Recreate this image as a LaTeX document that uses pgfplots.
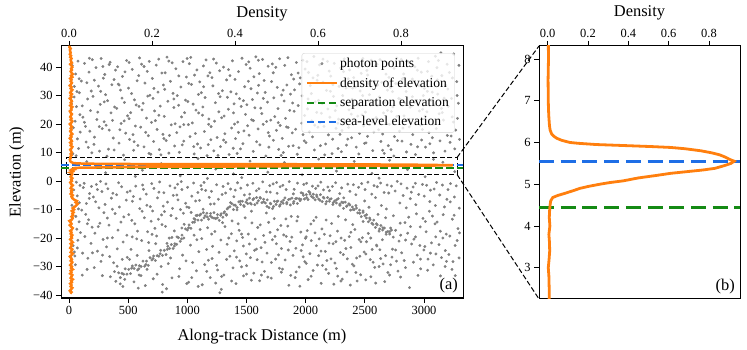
\documentclass[border=0pt]{standalone}
\usepackage{fontspec}
\setmainfont{Liberation Serif}
\usepackage{pgfplots}
\pgfplotsset{compat=1.18}
\usepackage{pgfplotstable}

\definecolor{photon}{RGB}{128,128,128}
\definecolor{densorange}{RGB}{255,127,14}
\definecolor{sepgreen}{RGB}{20,138,20}
\definecolor{seablue}{RGB}{30,110,230}

% density of photon elevations (elevation in m, normalised density)
\pgfplotstableread{
elev dens
-39.5 0.003
-39 0.006
-38.5 0.002
-38 0.005
-37.5 0.008
-37 0.004
-36.5 0.006
-36 0.003
-35.5 0.007
-35 0.005
-34.5 0.009
-34 0.004
-33.5 0.006
-33 0.008
-32.5 0.003
-32 0.006
-31.5 0.004
-31 0.009
-30.5 0.005
-30 0.007
-29.5 0.003
-29 0.006
-28.5 0.008
-28 0.004
-27.5 0.007
-27 0.005
-26.5 0.002
-26 0.006
-25.5 0.009
-25 0.004
-24.5 0.006
-24 0.008
-23.5 0.003
-23 0.005
-22.5 0.007
-22 0.004
-21.5 0.009
-21 0.006
-20.5 0.003
-20 0.007
-19.5 0.005
-19 0.008
-18.5 0.004
-18 0.006
-17.5 0.003
-17 0.007
-16.5 0.009
-16 0.005
-15.5 0.002
-15 0.006
-14.5 0.004
-14 0.001
-13.5 0.007
-13 0.009
-12.5 0.006
-12 0.010
-11.5 0.008
-11 0.011
-10.5 0.007
-10 0.012
-9.5 0.009
-9 0.014
-8.5 0.018
-8 0.021
-7.5 0.016
-7 0.019
-6.5 0.012
-6 0.008
-5.5 0.006
-5 0.009
-4.5 0.004
-4 0.007
-3.5 0.005
-3 0.008
-2.5 0.004
-2 0.006
-1.5 0.009
-1 0.005
-0.5 0.003
0 0.007
0.5 0.005
1 0.008
1.5 0.004
2 0.006
2.4 0.008
2.6 0.007
2.8 0.006
3.0 0.003
3.2 0.007
3.4 0.010
3.6 0.009
3.8 0.006
4.0 0.011
4.2 0.008
4.4 0.010
4.5 0.012
4.6 0.015
4.68 0.025
4.73 0.05
4.78 0.085
4.85 0.13
4.9 0.16
4.95 0.205
5.0 0.26
5.04 0.31
5.08 0.375
5.15 0.45
5.21 0.54
5.26 0.61
5.3 0.69
5.34 0.77
5.38 0.83
5.45 0.88
5.5 0.91
5.55 0.925
5.6 0.90
5.65 0.88
5.7 0.855
5.75 0.815
5.8 0.76
5.85 0.68
5.88 0.61
5.9 0.52
5.92 0.41
5.95 0.24
5.98 0.15
6.0 0.11
6.05 0.07
6.1 0.045
6.15 0.03
6.2 0.02
6.3 0.012
6.4 0.009
6.6 0.006
6.8 0.004
7.0 0.003
7.5 0.002
8.0 0.004
8.5 0.003
9 0.006
9.5 0.004
10 0.007
10.5 0.005
11 0.003
11.5 0.006
12 0.008
12.5 0.004
13 0.006
13.5 0.003
14 0.007
14.5 0.005
15 0.002
15.5 0.006
16 0.004
16.5 0.008
17 0.005
17.5 0.003
18 0.006
18.5 0.004
19 0.007
19.5 0.005
20 0.002
20.5 0.006
21 0.008
21.5 0.004
22 0.006
22.5 0.003
23 0.005
23.5 0.007
24 0.004
24.5 0.002
25 0.006
25.5 0.005
26 0.008
26.5 0.003
27 0.006
27.5 0.004
28 0.007
28.5 0.005
29 0.002
29.5 0.006
30 0.004
30.5 0.007
31 0.003
31.5 0.005
32 0.008
32.5 0.004
33 0.006
33.5 0.002
34 0.005
34.5 0.007
35 0.004
35.5 0.006
36 0.003
36.5 0.008
37 0.005
37.5 0.009
38 0.006
38.5 0.004
39 0.007
39.5 0.005
40 0.008
40.5 0.006
41 0.003
41.5 0.007
42 0.005
42.5 0.004
43 0.006
43.5 0.003
44 0.005
44.5 0.002
45 0.004
45.5 0.003
46 0.002
46.5 0.004
47 0.001
47.5 0.002
}\densitytable

\pgfplotsset{
  panel/.style={
    scale only axis,
    tick align=outside,
    major tick length=5bp,
    every tick/.style={black, line width=0.8bp},
    axis line style={-, line width=1bp, black},
    tick label style={font=\fontsize{12.5}{15}\selectfont},
    label style={font=\fontsize{16.5}{19}\selectfont},
    clip mode=individual,
  },
  linelegend/.style={legend image code/.code={\draw[##1] (0bp,0bp) -- (30bp,0bp);}},
  photons/.style={color=photon, only marks, mark=*, mark size=1.25bp,
    mark options={draw=none, fill=photon}},
}

\begin{document}
\begin{tikzpicture}
% ---------- panel (a): photons along the track ----------
\begin{axis}[panel,
  at={(61bp,52bp)}, anchor=south west, width=402bp, height=252bp,
  xmin=-67.6, xmax=3329.6, ymin=-41.05, ymax=47.4,
  xtick={0,500,1000,1500,2000,2500,3000},
  xticklabels={0,500,1000,1500,2000,2500,3000},
  xtick pos=left, xticklabel pos=left,
  ytick={-40,-30,-20,-10,0,10,20,30,40},
  yticklabels={−40,−30,−20,−10,0,10,20,30,40},
  ytick pos=left, yticklabel pos=left,
  xlabel={Along-track Distance (m)},
  ylabel={Elevation (m)},
  xlabel style={at={(axis description cs:0.5,-0.1667)}, anchor=base},
  ylabel style={at={(axis description cs:-0.1007,0.5)}, anchor=base},
]
% noise photons
\addplot[photons] coordinates {
(28,40.5) (45,33.2) (63,26.1) (37,18.7) (81,11.4) (56,37.6) (92,23.3) (71,14.8) (44,29.5) (86,35.9) (52,21.0) (76,42.1) (33,9.6) (67,31.4) (95,17.2)
(40,-3.1) (58,-12.4) (75,-20.8) (88,-7.6) (49,-26.3) (66,-16.9) (93,-1.5) (35,-22.7) (80,-9.8) (54,-29.4) (70,-5.2) (97,-18.1) (62,-0.4) (85,-14.3) (46,-24.9)
(104,35.1) (118,22.4) (131,41.3) (145,13.7) (157,28.8) (169,38.2) (176,17.5) (188,31.6) (193,9.9) (112,26.4) (139,19.2) (151,34.5) (163,11.8) (182,24.7) (197,42.6)
(108,-10.2) (121,-2.3) (134,-19.5) (147,-7.9) (159,-27.1) (166,-13.6) (174,-4.4) (186,-21.9) (195,-16.2) (115,-25.3) (128,-0.8) (141,-11.7) (153,-31.0) (171,-6.1) (190,-1.9)
(203,29.7) (215,15.4) (228,39.8) (236,21.6) (249,33.3) (257,10.5) (264,26.9) (272,43.0) (281,18.4) (290,36.1) (211,12.9) (243,24.2) (268,31.5) (286,40.2) (297,20.8)
(206,-5.6) (219,-18.3) (231,-1.2) (240,-24.6) (253,-9.4) (261,-14.8) (270,-28.2) (278,-3.7) (288,-20.5) (295,-11.1) (213,-30.4) (225,-7.3) (247,-16.0) (266,-0.1) (283,-26.0)
(302,37.4) (314,19.6) (326,28.2) (333,11.2) (347,41.7) (355,23.9) (362,33.8) (374,15.1) (386,26.0) (393,38.9) (309,30.3) (321,8.7) (340,17.9) (368,21.3) (381,35.6)
(305,-8.2) (317,-23.1) (329,-2.7) (338,-15.5) (350,-33.6) (358,-6.0) (366,-19.9) (377,-28.7) (389,-11.4) (396,-35.2) (312,-1.0) (324,-13.0) (344,-26.5) (371,-4.3) (384,-31.8)
(404,25.5) (411,40.1) (423,13.3) (435,31.9) (441,20.2) (452,36.7) (460,9.1) (468,27.6) (479,16.8) (487,42.3) (495,22.9) (416,34.0) (430,18.0) (448,29.1) (473,38.3)
(402,-4.8) (414,-17.2) (426,-9.1) (433,-36.1) (445,-2.0) (457,-21.4) (463,-12.6) (471,-34.5) (484,-6.7) (492,-26.8) (407,-29.9) (420,-0.6) (439,-14.4) (455,-37.0) (489,-19.0)
(503,32.6) (512,14.6) (521,24.0) (534,39.2) (546,10.8) (553,28.5) (561,19.3) (575,35.2) (582,12.5) (596,43.2) (508,21.9) (529,30.7) (541,16.3) (568,26.7) (589,37.0)
(505,-11.8) (517,-3.5) (524,-24.0) (536,-7.1) (549,-35.4) (556,-15.0) (564,-1.8) (572,-20.3) (585,-37.6) (598,-9.7) (511,-27.5) (531,-13.8) (544,-5.4) (579,-17.6) (593,-33.0)
(606,18.9) (613,41.0) (627,27.3) (634,12.0) (642,34.4) (655,22.1) (661,38.5) (670,15.9) (683,30.1) (691,9.4) (617,25.0) (648,17.1) (666,29.8) (678,42.0) (697,20.6)
(601,-6.3) (614,-20.9) (622,-1.4) (637,-12.9) (645,-36.7) (653,-4.6) (664,-17.8) (676,-24.4) (687,-9.0) (694,-14.1) (609,-33.2) (629,-2.9) (658,-8.5) (673,-21.6) (699,-0.9)
(704,36.0) (715,13.9) (723,24.6) (737,40.7) (744,18.1) (752,31.2) (763,11.0) (771,26.3) (785,37.9) (794,16.4) (710,29.0) (730,21.2) (758,42.8) (777,9.2) (798,33.7)
(707,-10.5) (718,-2.6) (726,-16.6) (733,-22.0) (748,-5.9) (755,-13.4) (766,-0.3) (779,-30.0) (788,-39.0) (796,-8.8) (712,-34.3) (740,-19.3) (760,-3.9) (782,-11.9) (791,-36.3)
(805,22.7) (813,38.0) (821,14.2) (836,28.0) (844,9.8) (857,35.0) (864,19.7) (872,41.5) (886,25.8) (893,12.3) (809,32.2) (828,43.5) (849,16.0) (879,30.8) (897,20.1)
(802,-4.1) (816,-15.9) (824,-37.8) (833,-7.4) (847,-20.0) (853,-1.7) (862,-12.1) (870,-34.0) (881,-5.0) (890,-17.5) (807,-10.7) (839,-29.0) (858,-27.0) (875,-9.6) (895,-2.4)
(903,39.4) (911,17.0) (926,26.6) (932,10.1) (945,33.0) (951,22.5) (963,41.9) (970,14.0) (984,28.4) (992,36.5) (915,30.0) (938,19.0) (957,12.7) (977,24.0) (998,43.0)
(906,-13.1) (918,-1.1) (921,-6.6) (935,-30.8) (942,-10.0) (954,-3.0) (960,-26.0) (973,-15.2) (986,-7.8) (995,-36.0) (912,-19.6) (929,-33.5) (948,-0.2) (966,-11.3) (989,-28.0)
(1004,27.9) (1017,41.2) (1023,15.6) (1035,33.9) (1042,20.4) (1058,9.5) (1061,37.2) (1073,24.9) (1086,13.0) (1094,30.4) (1009,19.8) (1029,43.4) (1049,27.0) (1068,16.7) (1081,39.0)
(1002,-2.2) (1014,-9.3) (1026,-22.5) (1038,-5.3) (1045,-28.6) (1053,-0.7) (1066,-13.5) (1077,-31.5) (1089,-4.0) (1097,-24.8) (1011,-35.5) (1032,-11.0) (1057,-19.0) (1070,-7.0) (1092,-37.0)
(1105,34.8) (1112,11.6) (1128,23.1) (1136,40.4) (1144,17.4) (1150,29.3) (1167,8.9) (1174,36.9) (1182,21.8) (1199,14.5) (1118,31.0) (1131,26.0) (1158,42.5) (1177,12.8) (1191,38.0)
(1103,-6.8) (1115,-1.6) (1122,-20.2) (1134,-9.9) (1147,-29.3) (1155,-3.3) (1163,-24.0) (1171,-16.4) (1185,-5.7) (1193,-33.9) (1108,-17.0) (1126,-36.4) (1141,-0.5) (1178,-27.8) (1196,-8.1)
(1201,19.1) (1216,33.4) (1224,10.6) (1237,27.5) (1245,41.4) (1252,15.3) (1266,24.3) (1273,38.7) (1280,12.1) (1296,31.7) (1208,36.3) (1230,21.0) (1259,9.0) (1277,29.6) (1290,22.2)
(1204,-3.6) (1213,-22.9) (1227,-8.0) (1233,-17.7) (1248,-1.3) (1256,-31.2) (1262,-6.4) (1275,-39.2) (1283,-20.7) (1294,-4.7) (1209,-27.2) (1240,-35.8) (1268,-25.0) (1287,-38.0) (1298,-14.6)
(1306,40.0) (1311,22.8) (1325,13.6) (1332,35.5) (1347,25.2) (1353,9.3) (1368,31.3) (1374,18.6) (1381,42.2) (1395,27.1) (1317,16.6) (1339,29.4) (1360,37.0) (1388,11.5) (1399,20.0)
(1302,-1.9) (1318,-16.0) (1323,-4.2) (1336,-22.2) (1344,-0.9) (1359,-26.4) (1365,-2.8) (1372,-18.5) (1386,-30.5) (1393,-5.5) (1309,-33.0) (1329,-12.0) (1350,-20.0) (1378,-14.0) (1397,-24.5)
(1407,14.9) (1414,30.6) (1426,20.7) (1433,38.4) (1449,11.3) (1455,26.2) (1462,43.1) (1478,17.6) (1485,33.1) (1491,23.4) (1403,35.7) (1421,9.7) (1441,28.9) (1470,13.1) (1497,40.9)
(1405,-3.2) (1417,-21.0) (1424,-0.6) (1438,-17.3) (1443,-28.0) (1452,-2.5) (1467,-19.8) (1475,-33.3) (1482,-4.9) (1498,-25.6) (1411,-36.0) (1430,-15.0) (1458,-30.1) (1473,-22.8) (1489,-12.9)
(1503,26.8) (1519,41.8) (1522,16.1) (1538,32.4) (1544,21.5) (1557,10.4) (1563,36.6) (1571,25.7) (1586,13.8) (1592,30.9) (1510,19.4) (1531,39.6) (1550,28.6) (1579,43.6) (1598,18.3)
(1508,-1.4) (1515,-18.6) (1527,-4.6) (1533,-26.9) (1546,-14.7) (1554,-0.8) (1561,-32.3) (1574,-20.4) (1583,-3.4) (1595,-16.3) (1501,-29.7) (1525,-22.1) (1541,-34.8) (1568,-24.3) (1590,-27.6)
(1608,37.7) (1613,12.7) (1629,23.7) (1636,42.7) (1641,19.9) (1658,31.1) (1664,8.8) (1677,27.7) (1683,40.3) (1694,15.8) (1602,33.6) (1620,25.6) (1649,35.3) (1670,20.9) (1689,11.9)
(1604,-2.7) (1616,-15.4) (1623,-23.4) (1637,-0.3) (1645,-19.1) (1652,-31.7) (1669,-3.8) (1674,-25.3) (1687,-14.5) (1696,-1.6) (1611,-35.0) (1632,-28.4) (1656,-21.5) (1680,-33.7) (1699,-18.0)
(1705,21.4) (1712,34.9) (1727,14.3) (1731,29.2) (1748,39.9) (1753,17.8) (1766,25.4) (1772,11.1) (1780,42.9) (1797,30.2) (1718,41.1) (1739,22.6) (1760,32.9) (1785,19.5) (1793,9.0)
(1701,-3.9) (1719,-20.6) (1725,-1.0) (1734,-13.2) (1746,-27.4) (1759,-4.3) (1763,-17.1) (1778,-30.6) (1784,-2.0) (1795,-23.7) (1709,-34.1) (1741,-19.4) (1755,-0.5) (1770,-25.9) (1790,-15.6)
(1802,15.0) (1818,28.1) (1823,40.6) (1839,19.0) (1841,33.7) (1856,12.2) (1865,24.8) (1879,37.3) (1887,16.9) (1890,27.4) (1811,10.0) (1830,22.0) (1850,43.3) (1872,30.5) (1899,35.8)
(1807,-1.5) (1814,-18.9) (1826,-27.7) (1835,-3.0) (1849,-15.8) (1853,-24.2) (1861,-0.2) (1874,-33.1) (1883,-19.7) (1896,-4.5) (1804,-30.9) (1833,-13.3) (1858,-36.6) (1868,-21.2) (1893,-26.1)
(1906,32.0) (1915,18.2) (1921,41.6) (1937,26.5) (1943,11.7) (1954,36.2) (1967,20.3) (1970,29.9) (1988,14.1) (1995,39.3) (1902,24.5) (1929,9.4) (1949,34.1) (1976,42.4) (1991,23.0)
(1903,-2.9) (1917,-23.6) (1926,-14.0) (1931,-0.7) (1945,-30.2) (1959,-17.9) (1962,-4.1) (1979,-26.6) (1984,-1.2) (1998,-20.1) (1911,-33.9) (1934,-12.5) (1951,-36.9) (1973,-22.4) (1993,-28.3)
(2003,13.5) (2016,25.3) (2024,38.1) (2031,17.3) (2048,30.7) (2052,21.1) (2069,43.7) (2074,10.9) (2081,27.8) (2097,35.4) (2011,41.9) (2039,33.5) (2058,15.5) (2077,19.6) (2093,24.1)
(2008,-0.8) (2013,-17.4) (2027,-3.7) (2036,-25.5) (2044,-15.1) (2057,-1.8) (2063,-31.4) (2079,-18.2) (2085,-2.6) (2091,-22.7) (2005,-28.9) (2021,-34.6) (2047,-20.9) (2068,-13.9) (2099,-29.5)
(2108,28.3) (2117,40.8) (2125,12.4) (2133,23.8) (2146,34.7) (2155,19.2) (2161,9.2) (2176,31.8) (2184,42.0) (2192,16.2) (2103,37.1) (2121,20.5) (2140,27.2) (2168,13.0) (2199,38.6)
(2105,-1.7) (2114,-20.3) (2128,-0.4) (2137,-16.8) (2142,-29.6) (2151,-3.1) (2166,-24.7) (2173,-13.7) (2188,-2.1) (2194,-32.4) (2110,-26.2) (2131,-35.9) (2158,-18.7) (2179,-27.9) (2197,-21.8)
(2204,22.4) (2212,36.8) (2228,14.7) (2235,29.7) (2241,41.3) (2257,18.5) (2263,26.4) (2274,11.4) (2282,33.2) (2296,39.7) (2209,31.5) (2223,9.6) (2250,24.7) (2278,21.7) (2290,16.4)
(2201,-3.4) (2219,-14.9) (2226,-1.9) (2232,-22.0) (2247,-28.8) (2253,-0.6) (2269,-17.6) (2271,-33.4) (2288,-4.4) (2293,-25.1) (2207,-19.2) (2238,-36.2) (2260,-30.7) (2276,-12.4) (2299,-20.0)
(2307,17.7) (2313,30.0) (2326,42.9) (2334,20.8) (2345,12.6) (2358,35.9) (2366,25.0) (2371,39.0) (2389,15.2) (2393,28.7) (2302,10.3) (2320,38.4) (2341,32.6) (2363,18.8) (2385,23.5)
(2304,-2.4) (2318,-25.8) (2322,-5.9) (2337,-13.6) (2349,-31.9) (2356,-1.1) (2368,-19.5) (2374,-3.6) (2382,-23.3) (2398,-15.3) (2309,-34.4) (2330,-20.8) (2352,-27.3) (2377,-36.5) (2395,-29.2)
(2406,36.3) (2411,21.7) (2427,11.9) (2438,27.0) (2444,40.0) (2455,16.7) (2460,31.6) (2476,23.2) (2483,43.0) (2497,13.2) (2401,26.1) (2419,33.0) (2449,9.5) (2469,37.8) (2490,19.3)
(2403,-1.3) (2416,-17.0) (2424,-4.8) (2431,-27.0) (2447,-2.2) (2452,-20.5) (2465,-32.9) (2473,-0.9) (2486,-14.2) (2494,-24.9) (2408,-29.8) (2435,-35.1) (2458,-26.4) (2479,-19.9) (2499,-7.0)
(2505,24.2) (2518,38.8) (2523,15.7) (2539,30.3) (2542,19.8) (2554,42.4) (2567,10.7) (2573,28.2) (2581,35.0) (2596,22.3) (2510,13.4) (2531,34.3) (2548,26.8) (2576,17.2) (2592,40.5)
(2502,-3.0) (2514,-21.3) (2526,-0.4) (2535,-9.2) (2546,-27.6) (2559,-4.6) (2562,-24.0) (2578,-1.6) (2584,-30.3) (2599,-22.5) (2508,-34.7) (2529,-18.4) (2551,-33.6) (2570,-28.5) (2590,-5.8)
(2603,41.0) (2617,18.0) (2622,29.5) (2636,13.9) (2643,34.6) (2658,23.9) (2664,9.7) (2679,37.5) (2685,20.2) (2691,31.9) (2609,26.6) (2628,42.6) (2651,16.5) (2670,27.6) (2698,12.4)
(2605,-2.0) (2612,-11.7) (2627,-24.1) (2633,-0.7) (2648,-20.6) (2654,-29.1) (2663,-4.0) (2675,-26.2) (2688,-1.4) (2694,-32.1) (2601,-22.8) (2620,-30.0) (2640,-8.6) (2668,-35.3) (2682,-9.8)
(2707,19.9) (2716,32.8) (2721,11.0) (2737,26.0) (2748,39.5) (2750,15.6) (2769,22.7) (2771,43.2) (2786,29.0) (2793,17.5) (2704,36.4) (2724,24.4) (2745,8.8) (2762,34.2) (2797,41.4)
(2702,-4.2) (2718,-16.5) (2725,-1.8) (2733,-23.9) (2741,-12.2) (2756,-3.5) (2767,-28.1) (2774,-0.1) (2789,-21.1) (2796,-7.7) (2709,-33.0) (2729,-26.7) (2760,-17.3) (2780,-31.6) (2799,-14.8)
(2801,28.6) (2814,14.0) (2828,37.6) (2831,22.9) (2849,31.4) (2852,10.2) (2866,41.7) (2875,19.0) (2882,25.9) (2898,35.1) (2808,42.7) (2822,18.6) (2840,27.3) (2860,33.8) (2890,12.9)
(2806,-1.0) (2811,-25.2) (2824,-5.1) (2839,-14.6) (2844,-30.4) (2857,-2.5) (2862,-18.3) (2878,-37.4) (2884,-6.2) (2895,-22.1) (2803,-19.0) (2833,-27.9) (2850,-9.4) (2871,-12.7) (2893,-3.9)
(2905,16.3) (2919,27.6) (2923,40.1) (2934,21.0) (2946,12.0) (2958,33.5) (2961,24.6) (2977,38.2) (2980,14.4) (2994,30.0) (2902,35.8) (2928,9.3) (2951,43.1) (2970,19.6) (2989,25.2)
(2908,-2.1) (2915,-20.4) (2927,-0.8) (2936,-11.5) (2943,-26.0) (2955,-4.7) (2968,-16.1) (2972,-30.8) (2987,-1.2) (2999,-24.2) (2911,-28.5) (2931,-8.3) (2949,-33.1) (2965,-22.6) (2991,-13.1)
(3004,32.5) (3013,11.9) (3025,24.3) (3038,41.9) (3042,17.0) (3059,28.3) (3065,36.8) (3076,20.0) (3081,9.9) (3096,43.8) (3009,22.8) (3029,38.5) (3050,13.1) (3070,31.2) (3091,26.7)
(3002,-5.3) (3018,-17.8) (3022,-1.5) (3034,-27.4) (3045,-10.6) (3054,-3.2) (3063,-21.7) (3078,-29.4) (3086,-2.8) (3093,-15.0) (3007,-23.0) (3031,-31.3) (3049,-7.2) (3071,-12.3) (3099,-19.6)
(3103,18.4) (3116,30.5) (3122,42.3) (3135,14.1) (3147,25.5) (3151,37.0) (3164,21.4) (3177,10.5) (3185,33.6) (3192,27.9) (3109,39.8) (3128,23.6) (3143,45.0) (3170,29.1) (3197,16.0)
(3106,-0.5) (3111,-14.4) (3127,-22.3) (3133,-4.9) (3148,-26.9) (3156,-1.4) (3162,-11.8) (3179,-30.0) (3188,-18.6) (3194,-6.4) (3101,-25.6) (3139,-33.3) (3159,-20.0) (3173,-9.1) (3190,-28.2)
(3206,26.2) (3214,38.1) (3229,15.8) (3233,29.0) (3248,20.7) (3251,44.6) (3260,11.3) (3277,34.9) (3283,22.0) (3295,40.6) (3202,32.3) (3220,13.6) (3240,36.2) (3268,17.9) (3290,27.3)
(3203,-3.0) (3218,-19.3) (3224,-0.9) (3239,-13.4) (3245,-28.3) (3256,-5.6) (3263,-22.6) (3272,-1.7) (3287,-16.7) (3298,-9.5) (3210,-25.8) (3236,-31.0) (3254,-12.0) (3280,-20.9) (3296,-27.0)
(150,6.8) (310,2.9) (470,7.5) (620,3.8) (780,6.1) (940,1.8) (1090,7.9) (1240,4.2) (1390,2.5) (1530,7.0) (1680,3.1) (1820,6.5) (1970,2.2) (2110,7.7) (2260,3.5)
(2410,6.9) (2560,2.7) (2710,7.3) (2860,4.0) (3010,1.5) (3160,6.6) (3260,3.3) (230,5.2) (880,4.8) (1460,1.2) (2040,5.0) (2620,1.0) (3080,7.6) (560,1.6) (1170,0.9)
};
% second pass of noise photons, offset within each column
\addplot[photons] coordinates {
(20,27.3) (60,8.9) (88,31.0) (130,20.6) (172,43.1) (214,35.4) (256,19.1) (298,27.8) (340,40.9) (382,10.9) (424,33.7) (466,21.1) (508,41.6) (550,13.8) (592,26.2)
(634,40.2) (676,9.7) (718,32.5) (760,23.1) (802,14.9) (844,42.1) (886,28.8) (928,36.9) (970,19.8) (1012,34.3) (1054,12.1) (1096,23.9) (1138,33.1) (1180,19.9) (1222,42.8)
(1264,30.7) (1306,14.4) (1348,39.1) (1390,23.9) (1432,17.1) (1474,28.2) (1516,35.0) (1558,21.2) (1600,42.4) (1642,29.0) (1684,17.0) (1726,38.0) (1768,20.5) (1810,31.9) (1852,18.8)
(1894,12.4) (1936,37.9) (1978,16.3) (2020,28.8) (2062,36.2) (2104,18.9) (2146,42.8) (2188,25.3) (2230,33.8) (2272,20.3) (2314,40.2) (2356,14.7) (2398,32.6) (2440,22.8) (2482,30.0)
(2524,37.2) (2566,20.9) (2608,33.7) (2650,10.8) (2692,24.8) (2734,31.4) (2776,14.2) (2818,35.9) (2860,21.4) (2902,29.6) (2944,38.9) (2986,18.1) (3028,31.5) (3070,15.2) (3112,35.5)
(3154,24.0) (3196,41.0) (3238,22.5) (3280,30.0) (3300,14.6)
(25,-8.5) (70,-23.5) (112,-33.0) (155,-15.0) (198,-25.2) (240,-3.0) (282,-33.2) (324,-20.0) (366,-9.9) (408,-23.8) (450,-27.5) (492,-3.9) (534,-19.6) (576,-26.1) (618,-10.6)
(660,-31.0) (702,-18.7) (744,-32.7) (786,-15.3) (828,-21.9) (870,-19.8) (912,-4.9) (954,-16.5) (996,-9.1) (1038,-33.9) (1080,-20.6) (1122,-2.9) (1164,-31.7) (1206,-18.6) (1248,-29.6)
(1290,-33.5) (1332,-27.5) (1374,-35.1) (1416,-26.7) (1458,-18.6) (1500,-32.7) (1542,-10.6) (1584,-23.9) (1626,-33.0) (1668,-11.2) (1710,-28.6) (1752,-22.0) (1794,-32.0) (1836,-19.4) (1878,-12.4)
(1920,-31.9) (1962,-24.4) (2004,-19.6) (2046,-33.4) (2088,-12.7) (2130,-24.6) (2172,-31.0) (2214,-27.3) (2256,-21.3) (2298,-35.1) (2340,-23.7) (2382,-18.0) (2424,-32.1) (2466,-21.3) (2508,-25.6)
(2550,-20.0) (2592,-35.8) (2634,-27.2) (2676,-12.9) (2718,-29.4) (2760,-24.2) (2802,-33.7) (2844,-20.7) (2886,-16.0) (2928,-19.6) (2970,-27.4) (3012,-14.2) (3054,-25.3) (3096,-8.6) (3138,-17.6)
(3180,-24.4) (3222,-7.3) (3264,-33.2) (3300,-18.2)
};
% sea-floor return photons
\addplot[photons] coordinates {
(420,-32.2) (434,-33.9) (447,-32.4) (461,-32.7) (475,-30.8) (490,-32.7) (505,-31.0) (520,-32.5) (535,-29.8) (550,-30.7)
(565,-29.5) (580,-31.2) (595,-29.7) (610,-30.0) (625,-28.1) (640,-29.9) (655,-28.1) (670,-29.6) (685,-26.9) (700,-27.7)
(715,-26.3) (730,-27.9) (745,-26.2) (760,-26.4) (775,-24.3) (790,-26.1) (805,-24.3) (820,-25.8) (835,-22.9) (850,-23.7)
(865,-22.3) (880,-23.7) (895,-22.0) (910,-22.2) (925,-19.9) (940,-21.2) (955,-19.0) (970,-20.0) (985,-16.8) (1000,-17.2)
(1015,-15.4) (1030,-16.6) (1045,-14.5) (1060,-14.4) (1075,-12.1) (1090,-13.7) (1105,-12.0) (1120,-13.7) (1135,-11.1) (1150,-12.2)
(1165,-11.3) (1180,-13.4) (1195,-12.3) (1210,-12.8) (1225,-11.1) (1240,-13.2) (1255,-11.8) (1270,-13.8) (1285,-11.5) (1300,-12.7)
(1315,-10.8) (1330,-11.7) (1345,-9.4) (1360,-9.0) (1375,-7.9) (1390,-10.0) (1405,-8.5) (1420,-10.1) (1435,-7.3) (1450,-8.2)
(1465,-7.1) (1480,-8.9) (1495,-7.4) (1510,-7.9) (1525,-6.0) (1540,-8.1) (1555,-6.5) (1570,-8.3) (1585,-5.8) (1600,-6.9)
(1615,-5.8) (1630,-7.6) (1645,-6.4) (1660,-7.7) (1675,-6.6) (1690,-9.3) (1705,-8.0) (1720,-9.7) (1735,-7.1) (1750,-8.2)
(1765,-7.0) (1780,-8.8) (1795,-7.3) (1810,-7.8) (1825,-5.9) (1840,-8.0) (1855,-6.5) (1870,-8.4) (1885,-6.0) (1900,-7.2)
(1915,-6.2) (1930,-7.9) (1945,-6.2) (1960,-6.4) (1975,-4.3) (1990,-6.3) (2005,-4.8) (2020,-6.5) (2035,-4.0) (2050,-5.4)
(2065,-4.6) (2080,-6.6) (2095,-5.5) (2110,-6.3) (2125,-4.8) (2140,-7.2) (2155,-6.0) (2170,-8.0) (2185,-5.8) (2200,-7.1)
(2215,-6.2) (2230,-8.2) (2245,-7.0) (2260,-7.7) (2275,-6.2) (2290,-8.5) (2305,-7.4) (2320,-9.6) (2335,-7.4) (2350,-8.7)
(2365,-8.0) (2380,-10.2) (2395,-9.1) (2410,-10.0) (2425,-8.6) (2440,-11.2) (2455,-10.2) (2470,-12.5) (2485,-10.5) (2500,-12.2)
(2515,-11.8) (2530,-14.3) (2545,-13.6) (2560,-14.8) (2575,-13.7) (2590,-16.3) (2605,-15.4) (2620,-17.6) (2635,-15.6) (2650,-17.2)
(2665,-16.5) (2680,-18.7) (2695,-17.7) (2710,-18.6) (2725,-17.2) (2740,-19.7)
(1057,-13.2) (1085,-12.0) (1113,-11.6) (1141,-12.9) (1169,-12.6) (1197,-11.4) (1225,-13.0) (1253,-12.9) (1281,-12.0) (1309,-11.2)
(1337,-9.8) (1365,-7.6) (1393,-8.4) (1421,-9.3) (1449,-7.1) (1477,-8.6) (1505,-6.6) (1533,-7.8) (1561,-6.2) (1589,-7.7)
(1617,-6.0) (1645,-7.3) (1673,-8.9) (1701,-7.8) (1729,-8.9) (1757,-7.2) (1785,-8.3) (1813,-6.7) (1841,-7.5) (1869,-6.3)
(1897,-7.8) (1925,-6.1) (1953,-6.9) (1981,-5.0) (2009,-5.8) (2037,-4.6) (2065,-5.9) (2093,-4.9) (2121,-6.8) (2149,-5.7)
(2177,-7.2) (2205,-6.4) (2233,-7.6) (2261,-6.6) (2289,-8.1) (2317,-7.6) (2345,-8.9) (2373,-8.4) (2401,-10.0) (2429,-9.5)
(2457,-11.3) (2485,-11.0) (2513,-13.0) (2541,-13.0) (2569,-15.2) (2597,-15.0) (2625,-16.8) (2653,-16.4) (2681,-17.9) (2709,-17.8)
(530,-30.6) (590,-30.8) (650,-29.3) (710,-27.2) (770,-25.5) (830,-24.0) (890,-22.8) (950,-20.3) (1010,-16.4)
};
% window shown enlarged in panel (b)
\addplot[black, line width=1bp, dash pattern=on 5bp off 2.5bp] coordinates {
(-20,2.25) (3280,2.25) (3280,8.3) (-20,8.3) (-20,2.25)};
\coordinate (winTR) at (axis cs:3280,8.3);
\coordinate (winBR) at (axis cs:3280,2.25);
\node[anchor=base east, inner sep=0pt, font=\fontsize{16.5}{19}\selectfont]
  at (rel axis cs:0.9876,0.032) {(a)};
\end{axis}

% density axis sharing panel (a)
\begin{axis}[panel,
  at={(61bp,52bp)}, anchor=south west, width=402bp, height=252bp,
  xmin=-0.0193, xmax=0.9494, ymin=-41.05, ymax=47.4,
  xtick={0,0.2,0.4,0.6,0.8}, xticklabels={0.0,0.2,0.4,0.6,0.8},
  xtick pos=right, xticklabel pos=right,
  ytick=\empty,
  xlabel={Density},
  xlabel style={at={(axis description cs:0.5,1.115)}, anchor=base},
  legend cell align=left,
  legend style={at={(axis description cs:0.980,0.972)}, anchor=north east,
    draw=black!18, rounded corners=2.5bp, fill=white, fill opacity=0.8, text opacity=1,
    font=\fontsize{13.6}{15}\selectfont, inner xsep=4bp, inner ysep=3bp, row sep=4.5bp},
]
\addlegendimage{legend image code/.code={\fill[photon] (15bp,0bp) circle (1.25bp);}}
\addlegendentry{photon points}
\addlegendimage{linelegend, densorange, line width=2.2bp}
\addlegendentry{density of elevation}
\addlegendimage{linelegend, sepgreen, line width=2bp, dash pattern=on 7.5bp off 3.5bp}
\addlegendentry{separation elevation}
\addlegendimage{linelegend, seablue, line width=2bp, dash pattern=on 7.5bp off 3.5bp}
\addlegendentry{sea-level elevation}
\addplot[forget plot, sepgreen, line width=2bp, dash pattern=on 7.5bp off 3.5bp]
  coordinates {(-0.0193,4.45) (0.9494,4.45)};
\addplot[forget plot, seablue, line width=2bp, dash pattern=on 7.5bp off 3.5bp]
  coordinates {(-0.0193,5.55) (0.9494,5.55)};
\addplot[forget plot, densorange, line width=2.5bp] table[x=dens, y=elev] {\densitytable};
\end{axis}

% ---------- panel (b): enlarged window around the sea surface ----------
\begin{axis}[panel, name=zoomax,
  at={(539bp,51bp)}, anchor=south west, width=201bp, height=253bp,
  xmin=-0.043, xmax=0.954, ymin=2.25, ymax=8.311,
  xtick={0,0.2,0.4,0.6,0.8}, xticklabels={0.0,0.2,0.4,0.6,0.8},
  xtick pos=right, xticklabel pos=right,
  ytick={3,4,5,6,7,8}, yticklabels={3,4,5,6,7,8},
  ytick pos=left, yticklabel pos=left,
  xlabel={Density},
  xlabel style={at={(axis description cs:0.5,1.1146)}, anchor=base},
]
\addplot[sepgreen, line width=2.8bp, dash pattern=on 15bp off 6.7bp]
  coordinates {(-0.043,4.45) (0.954,4.45)};
\addplot[seablue, line width=2.8bp, dash pattern=on 15bp off 6.7bp]
  coordinates {(-0.043,5.55) (0.954,5.55)};
\addplot[densorange, line width=2.8bp] table[x=dens, y=elev] {\densitytable};
\node[anchor=base east, inner sep=0pt, font=\fontsize{16.5}{19}\selectfont]
  at (rel axis cs:0.975,0.032) {(b)};
\end{axis}

% connectors from the window in (a) to panel (b)
\draw[black, line width=1bp, dash pattern=on 5bp off 2.5bp] (winTR) -- (zoomax.north west);
\draw[black, line width=1bp, dash pattern=on 5bp off 2.5bp] (winBR) -- (zoomax.south west);

\pgfresetboundingbox
\path[use as bounding box] (0bp,0bp) rectangle (747bp,350bp);
\end{tikzpicture}
\end{document}
